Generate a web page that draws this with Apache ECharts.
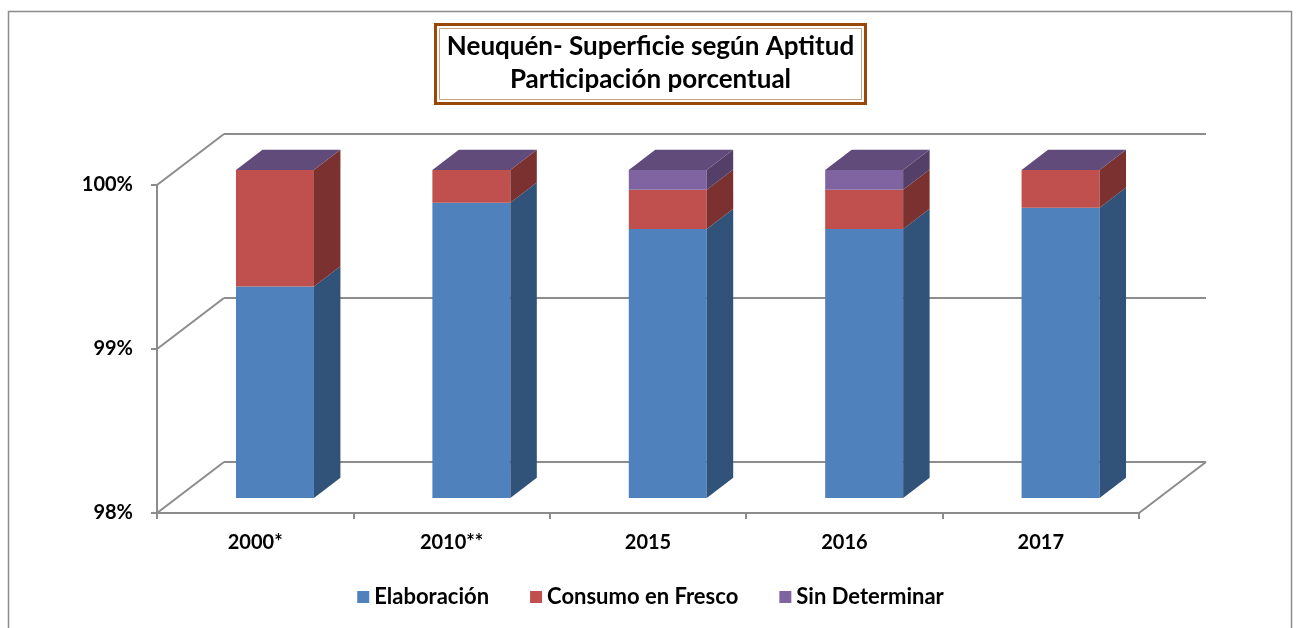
<!DOCTYPE html>
<html>
<head>
<meta charset="utf-8">
<script src="https://cdn.jsdelivr.net/npm/echarts@6/dist/echarts.min.js"></script>
<style>
  html, body { margin: 0; padding: 0; background: #ffffff; }
  #chart { width: 1301px; height: 628px; }
</style>
</head>
<body>
<div id="chart"></div>
<script>
// Surface share by aptitude, Neuquén (percent of total)
const categories = ['2000*', '2010**', '2015', '2016', '2017'];
const elaboracion = [99.29, 99.80, 99.64, 99.64, 99.77];
const consumoFresco = [0.71, 0.20, 0.24, 0.24, 0.23];
const sinDeterminar = [0, 0, 0.12, 0.12, 0];
const yTicks = [98, 99, 100];
const seriesNames = ['Elaboración', 'Consumo en Fresco', 'Sin Determinar'];
const seriesValues = [elaboracion, consumoFresco, sinDeterminar];

const FONT = 'Lato, "Open Sans", sans-serif';
const LINE = '#8c8c8c';
const DEPTH = [67, -51];            // depth vector of the 3D walls, px
const BAR_FRONT = 0.295;            // bar front face, fraction of wall depth
const BAR_BACK = 0.69;              // bar back face, fraction of wall depth
const BAR_WIDTH = 0.397;            // bar width as a fraction of the category band

const faces = [
  { front: '#4F81BD', side: '#31537A', top: '#3E6697' },
  { front: '#C0504D', side: '#7B3130', top: '#99403D' },
  { front: '#8064A2', side: '#533F67', top: '#614B7B' }
];

// stacked [category, base, top] triples for each series
const stacked = [];
const running = categories.map(() => 0);
seriesValues.forEach((vals) => {
  stacked.push(vals.map((v, i) => {
    const row = [i, running[i], running[i] + v];
    running[i] += v;
    return row;
  }));
});

// walls, floor and depth connectors of the 3D frame
function renderFrame(params, api) {
  const cs = params.coordSys;
  const x0 = cs.x, x1 = cs.x + cs.width;
  const st = { stroke: LINE, lineWidth: 2, fill: null };
  const children = [];
  yTicks.forEach((t) => {
    const y = api.coord([0, t])[1];
    children.push({ type: 'line', shape: { x1: x0, y1: y, x2: x0 + DEPTH[0], y2: y + DEPTH[1] }, style: st });
    children.push({ type: 'line', shape: { x1: x0 + DEPTH[0], y1: y + DEPTH[1], x2: x1 + DEPTH[0], y2: y + DEPTH[1] }, style: st });
  });
  const yb = api.coord([0, yTicks[0]])[1];
  children.push({ type: 'line', shape: { x1: x1, y1: yb, x2: x1 + DEPTH[0], y2: yb + DEPTH[1] }, style: st });
  return { type: 'group', children };
}

// one stacked 3D box segment
function boxRenderer(k) {
  const c = faces[k];
  const isTop = k === seriesValues.length - 1;
  return function (params, api) {
    const i = api.value(0);
    const v0 = Math.max(api.value(1), yTicks[0]);
    const v1 = Math.max(api.value(2), yTicks[0]);
    const band = api.size([1, 0])[0];
    const half = band * BAR_WIDTH / 2;
    const pb = api.coord([i, v0]);
    const pt = api.coord([i, v1]);
    const fx = DEPTH[0] * BAR_FRONT, fy = DEPTH[1] * BAR_FRONT;
    const dx = DEPTH[0] * (BAR_BACK - BAR_FRONT), dy = DEPTH[1] * (BAR_BACK - BAR_FRONT);
    const xl = pt[0] - half + fx, xr = pt[0] + half + fx;
    const yt = pt[1] + fy, yb = pb[1] + fy;
    const children = [];
    if (yb - yt > 0.01) {
      children.push({ type: 'rect', shape: { x: xl, y: yt, width: xr - xl, height: yb - yt }, style: { fill: c.front } });
      children.push({ type: 'polygon', shape: { points: [[xr, yb], [xr, yt], [xr + dx, yt + dy], [xr + dx, yb + dy]] }, style: { fill: c.side } });
    }
    if (isTop) {
      children.push({ type: 'polygon', shape: { points: [[xl, yt], [xr, yt], [xr + dx, yt + dy], [xl + dx, yt + dy]] }, style: { fill: c.top } });
    }
    return { type: 'group', children };
  };
}

const chart = echarts.init(document.getElementById('chart'), null, { renderer: 'canvas' });

const series = [{
  type: 'custom',
  silent: true,
  z: 1,
  renderItem: renderFrame,
  data: [[0, yTicks[0], yTicks[0]]],
  encode: { x: 0, y: [1, 2] }
}];
seriesNames.forEach((name, k) => {
  series.push({
    name,
    type: 'custom',
    silent: true,
    z: 2,
    itemStyle: { color: faces[k].front },
    renderItem: boxRenderer(k),
    data: stacked[k],
    encode: { x: 0, y: [1, 2] }
  });
});

chart.setOption({
  animation: false,
  backgroundColor: '#ffffff',
  title: {
    text: 'Neuquén- Superficie según Aptitud\nParticipación porcentual',
    left: 'center',
    top: 25,
    textStyle: { fontFamily: FONT, fontWeight: 'bold', fontSize: 26, lineHeight: 33, color: '#000' }
  },
  legend: {
    data: seriesNames,
    left: 'center',
    top: 581,
    icon: 'rect',
    itemWidth: 12,
    itemHeight: 12,
    itemGap: 41,
    selectedMode: false,
    textStyle: { fontFamily: FONT, fontWeight: 'bold', fontSize: 22, color: '#000' }
  },
  grid: { left: 157, top: 185, width: 982, height: 328, containLabel: false },
  xAxis: {
    type: 'category',
    data: categories,
    axisLine: { show: true, lineStyle: { color: LINE, width: 2 } },
    axisTick: { show: true, length: 6, lineStyle: { color: LINE, width: 2 } },
    axisLabel: { fontFamily: FONT, fontWeight: 'bold', fontSize: 20, color: '#000', margin: 20 },
    splitLine: { show: false }
  },
  yAxis: {
    type: 'value',
    min: yTicks[0],
    max: yTicks[yTicks.length - 1],
    interval: 1,
    axisLine: { show: true, lineStyle: { color: LINE, width: 2 } },
    axisTick: { show: true, length: 6, lineStyle: { color: LINE, width: 2 } },
    axisLabel: { formatter: (v) => v + '%', fontFamily: FONT, fontWeight: 'bold', fontSize: 20, color: '#000', margin: 24 },
    splitLine: { show: false }
  },
  graphic: [
    { type: 'rect', silent: true, z: -1, shape: { x: 8.5, y: 11.5, width: 1283, height: 640 }, style: { fill: null, stroke: LINE, lineWidth: 1.5 } },
    { type: 'rect', silent: true, shape: { x: 435.5, y: 24.5, width: 430, height: 79 }, style: { fill: null, stroke: '#984807', lineWidth: 3 } },
    { type: 'rect', silent: true, shape: { x: 439.5, y: 28.5, width: 422, height: 71 }, style: { fill: null, stroke: '#c8a285', lineWidth: 1 } }
  ],
  series
});
</script>
</body>
</html>
